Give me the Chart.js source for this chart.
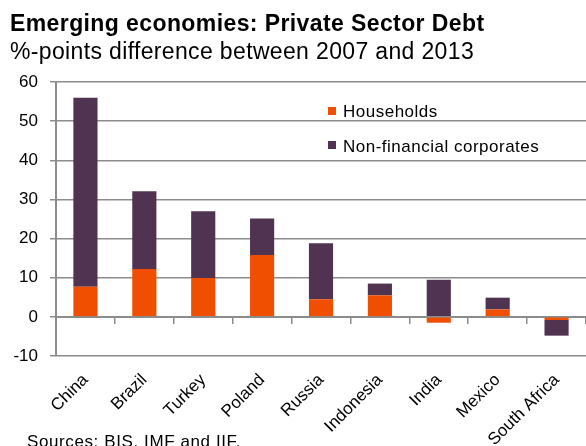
<!DOCTYPE html>
<html>
<head>
<meta charset="utf-8">
<script src="https://cdn.jsdelivr.net/npm/chart.js@4/dist/chart.umd.min.js"></script>
<style>
  body { margin: 0; background: #fff; font-family: "Liberation Sans", Arial, sans-serif; }
  #wrap { position: relative; width: 586px; height: 446px; overflow: hidden; }
  #chart { position: absolute; left: 0; top: 0; }
  .txt { position: absolute; line-height: 1; white-space: nowrap; color: #000; }
  #title { left: 10px; top: 12px; font-size: 23px; font-weight: bold; letter-spacing: 0.4px; }
  #subtitle { left: 10px; top: 40px; font-size: 23px; letter-spacing: 0.35px; }
  #sources { left: 27px; top: 433px; font-size: 17px; letter-spacing: 0.6px; }
  .leg { position: absolute; left: 328px; font-size: 17px; line-height: 1; letter-spacing: 0.5px; white-space: nowrap; }
  .leg span { position: absolute; left: 0; width: 8px; height: 8px; }
  .leg b { font-weight: normal; position: absolute; left: 15px; top: 0; }
</style>
</head>
<body>
<div id="wrap">
  <canvas id="chart" width="586" height="446"></canvas>
  <div class="txt" id="title">Emerging economies: Private Sector Debt</div>
  <div class="txt" id="subtitle">%-points difference between 2007 and 2013</div>
  <div class="leg" id="leg1" style="top:103px"><span style="top:4px;background:#F04E00"></span><b>Households</b></div>
  <div class="leg" id="leg2" style="top:138px"><span style="top:3px;background:#4F3350"></span><b>Non-financial corporates</b></div>
  <div class="txt" id="sources">Sources: BIS, IMF and IIF.</div>
</div>
<script>
  const countries = ["China", "Brazil", "Turkey", "Poland", "Russia", "Indonesia", "India", "Mexico", "South Africa"];
  const households = [7.7, 12.2, 9.9, 15.8, 4.5, 5.5, -1.5, 1.9, -0.8];
  const corporates = [48.3, 19.9, 17.1, 9.3, 14.3, 3.0, 9.5, 3.0, -4.0];
  const yTicks = { min: -10, max: 60, step: 10 };

  const gridGrey = "#8c8c8c";
  const orange = "#F04E00";
  const purple = "#4F3350";

  new Chart(document.getElementById("chart"), {
    type: "bar",
    data: {
      labels: countries,
      datasets: [
        { label: "Households", data: households, backgroundColor: orange,
          categoryPercentage: 1, barPercentage: 0.41 },
        { label: "Non-financial corporates", data: corporates, backgroundColor: purple,
          categoryPercentage: 1, barPercentage: 0.41 }
      ]
    },
    options: {
      responsive: false,
      animation: false,
      layout: { padding: { top: 82, left: 0, right: 0, bottom: 0 } },
      plugins: {
        legend: { display: false },
        tooltip: { enabled: false }
      },
      scales: {
        x: {
          stacked: true,
          grid: { display: false },
          border: { display: false },
          ticks: {
            color: "#000", minRotation: 45, maxRotation: 45, padding: 6,
            font: { family: "'Liberation Sans', Arial, sans-serif", size: 17 }
          },
          afterFit: function(scale) { scale.height = 90; }
        },
        x2: {
          axis: "x",
          type: "category",
          position: { y: 0 },
          grid: { drawOnChartArea: false, drawTicks: true, tickLength: 6, color: gridGrey, lineWidth: 1.5, offset: true },
          border: { color: gridGrey, width: 2 },
          ticks: { display: false }
        },
        y: {
          stacked: true,
          min: yTicks.min, max: yTicks.max,
          ticks: {
            stepSize: yTicks.step, color: "#000", padding: 12,
            font: { family: "'Liberation Sans', Arial, sans-serif", size: 17 }
          },
          grid: { color: gridGrey, lineWidth: 1.5, tickLength: 6 },
          border: { color: gridGrey, width: 2 },
          afterFit: function(scale) { scale.width = 56; }
        }
      }
    }
  });
</script>
</body>
</html>
